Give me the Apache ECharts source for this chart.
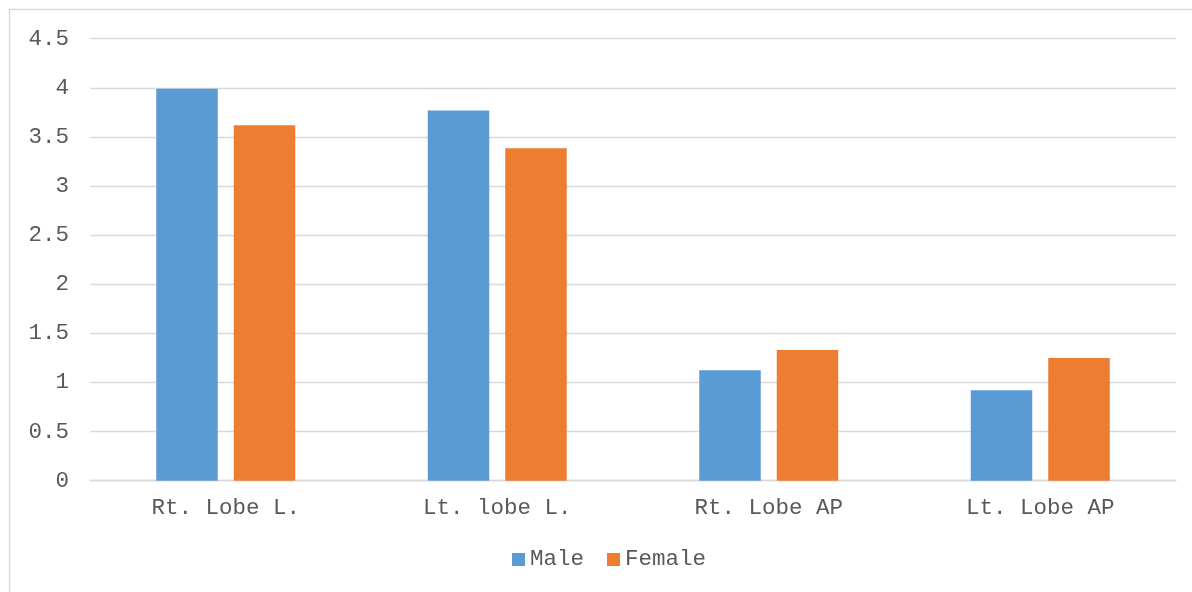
<!DOCTYPE html>
<html>
<head>
<meta charset="utf-8">
<script src="https://cdn.jsdelivr.net/npm/echarts@6/dist/echarts.min.js"></script>
<style>
html,body{margin:0;padding:0;background:#fff;}
#chart{width:1192px;height:592px;}
</style>
</head>
<body>
<div id="chart"></div>
<script>
const categories = ["Rt. Lobe L.", "Lt. lobe L.", "Rt. Lobe AP", "Lt. Lobe AP"];
const maleValues = [3.99, 3.77, 1.125, 0.92];
const femaleValues = [3.62, 3.385, 1.33, 1.25];
const seriesNames = ["Male", "Female"];

const FONT = "'Courier New', 'Liberation Mono', monospace";
const TXT = "#595959";

const chart = echarts.init(document.getElementById('chart'), null, {renderer: 'canvas'});
chart.setOption({
  animation: false,
  backgroundColor: '#fff',
  graphic: [{
    type: 'rect',
    shape: {x: 9.5, y: 9.5, width: 1200, height: 600},
    style: {fill: 'none', stroke: '#d9d9d9', lineWidth: 1.5},
    silent: true,
    z: -1
  }],
  grid: {left: 90, right: 16, top: 38.7, bottom: 111.3, containLabel: false},
  legend: {
    data: seriesNames,
    bottom: 21,
    left: 512,
    padding: 0,
    itemWidth: 13,
    itemHeight: 13,
    itemGap: 23,
    icon: 'rect',
    textStyle: {color: TXT, fontFamily: FONT, fontSize: 22.5}
  },
  xAxis: {
    type: 'category',
    data: categories,
    axisLine: {show: true, lineStyle: {color: '#d9d9d9', width: 1.3}},
    axisTick: {show: false},
    axisLabel: {color: TXT, fontFamily: FONT, fontSize: 22.5, margin: 16}
  },
  yAxis: {
    type: 'value',
    min: 0,
    max: 4.5,
    interval: 0.5,
    axisLine: {show: false},
    axisTick: {show: false},
    splitLine: {lineStyle: {color: '#d9d9d9', width: 1.3}},
    axisLabel: {color: TXT, fontFamily: FONT, fontSize: 22.5, margin: 21}
  },
  series: [
    {name: seriesNames[0], type: 'bar', data: maleValues, barWidth: 61.5, barGap: '26%', itemStyle: {color: '#5b9bd5'}},
    {name: seriesNames[1], type: 'bar', data: femaleValues, barWidth: 61.5, barGap: '26%', itemStyle: {color: '#ed7d31'}}
  ]
});
</script>
</body>
</html>
